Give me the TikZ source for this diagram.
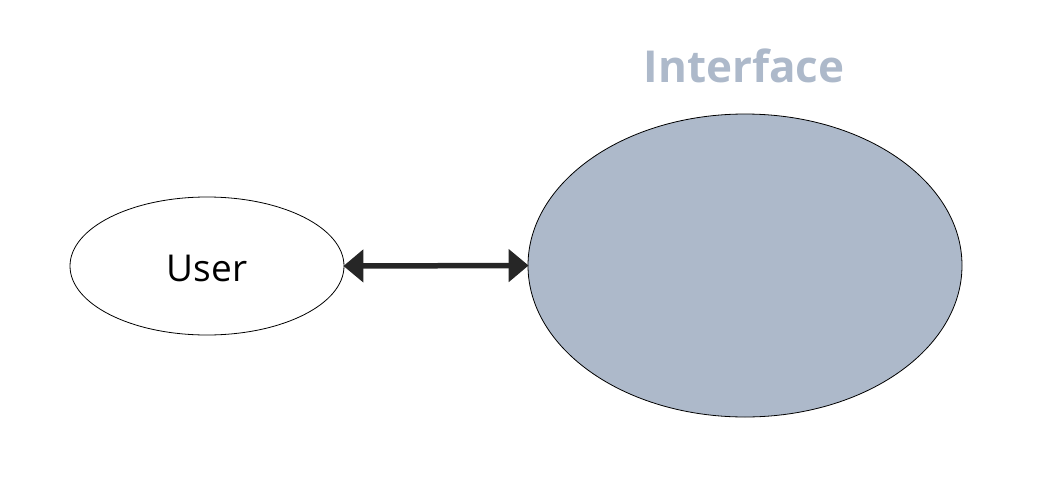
\documentclass[tikz,border=0pt]{standalone}
\usepackage{fontspec}
\setmainfont{Open Sans}
\usetikzlibrary{arrows.meta,shapes.geometric}
\definecolor{iface}{HTML}{ADB9CA}
\definecolor{arrowc}{HTML}{262626}
\tikzset{
  ell/.style={ellipse, draw=black, line width=0.8pt, inner sep=0pt},
  conn/.style={draw=arrowc, line width=5.5pt, {Triangle[length=20pt,width=32pt]}-{Triangle[length=20pt,width=32pt]}, shorten <=-1pt, shorten >=-1pt}
}
\begin{document}
\begin{tikzpicture}[x=1pt,y=-1pt]
\useasboundingbox (0,0) rectangle (1051,479);
\node[ell, fill=white, minimum width=274pt, minimum height=138pt] (user) at (207,266) {};
\node[font=\fontsize{37}{44}\selectfont] (userlabel) at (207,268) {User};
\node[ell, fill=iface, minimum width=434pt, minimum height=303pt] (iface) at (745,265.5) {};
\node[font=\fontsize{44}{52}\selectfont\bfseries, text=iface] (title) at (744,66) {Interface};
\draw[conn] (user.east) -- (iface.west);
\end{tikzpicture}
\end{document}
